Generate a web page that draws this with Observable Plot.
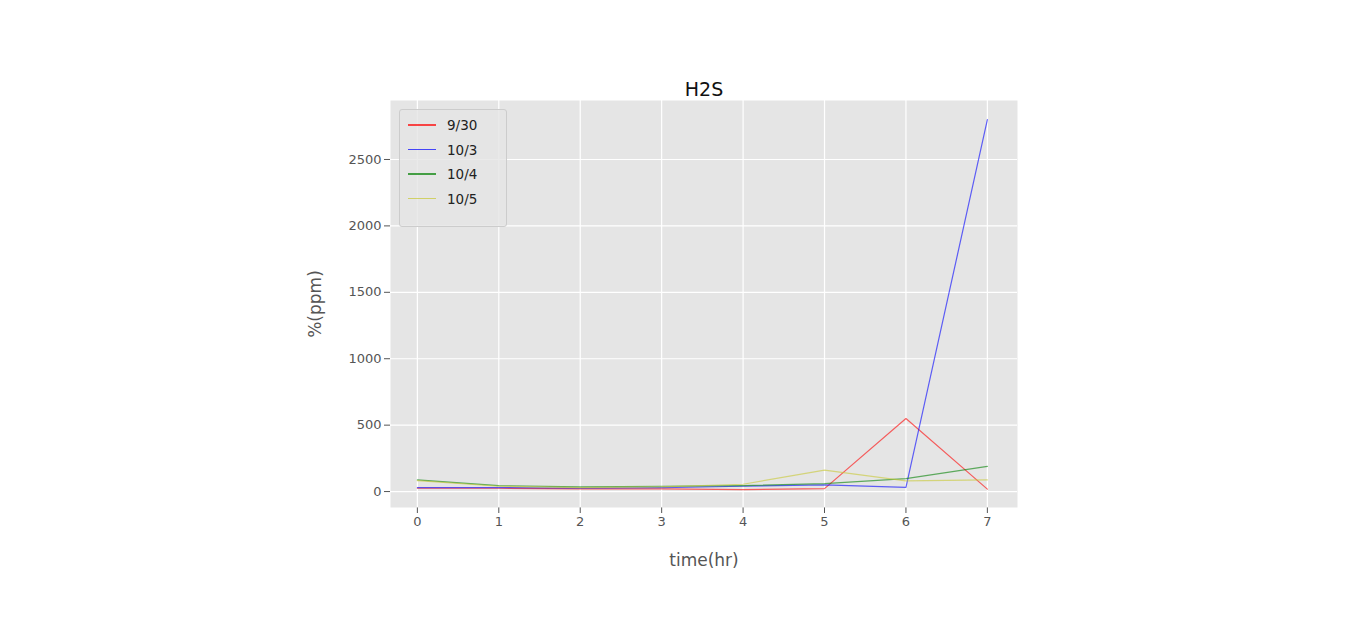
<!DOCTYPE html><html><head><meta charset="utf-8">
<script src="https://cdn.jsdelivr.net/npm/d3@7"></script>
<script src="https://cdn.jsdelivr.net/npm/@observablehq/plot@0.6"></script>
<style>body{margin:0;background:#fff;font-family:"DejaVu Sans",sans-serif}#wrap{position:relative;width:1350px;height:629px}
#leg{position:absolute;left:399px;top:109px;width:108px;height:118px;background:rgba(229,229,229,0.8);border:1px solid #ccc;border-radius:3px;box-sizing:border-box;font-size:13.5px;color:#222}
.row{position:absolute;left:8px;display:flex;align-items:center}.sw{display:inline-block;width:28px;height:1.2px;margin-right:11px;opacity:.7}</style></head><body><div id="wrap"></div>
<script>
const hours=[0,1,2,3,4,5,6,7];
const series=["9/30","10/3","10/4","10/5"];
const colors=["red","blue","green","#c8c832"];
const v930=[25,25,20,20,15,22,550,18];
const v103=[30,30,25,30,40,50,32,2800];
const v104=[88,45,35,40,45,60,98,190];
const v105=[82,40,30,35,55,162,80,88];
const vals=[v930,v103,v104,v105];
const data=series.flatMap((s,i)=>hours.map((h,j)=>({s,h,v:vals[i][j]})));
const chart=Plot.plot({width:1350,height:629,marginLeft:390,marginRight:333,marginTop:100,marginBottom:122,
style:{fontFamily:"DejaVu Sans",fontSize:"13px",color:"#555"},
x:{domain:[-0.33,7.37],ticks:hours,tickFormat:d3.format("d"),label:"time(hr)",labelArrow:false,labelAnchor:"center",labelOffset:58},
y:{domain:[-120,2944],ticks:[0,500,1000,1500,2000,2500],tickFormat:d3.format("d"),label:"%(ppm)",labelArrow:false,labelAnchor:"center",labelOffset:82},
color:{domain:series,range:colors},
marks:[Plot.frame({fill:"#e5e5e5"}),
Plot.gridX({ticks:hours,stroke:"white",strokeOpacity:1,strokeWidth:1.2}),
Plot.gridY({ticks:[0,500,1000,1500,2000,2500],stroke:"white",strokeOpacity:1,strokeWidth:1.2}),
Plot.line(data,{x:"h",y:"v",z:"s",stroke:"s",strokeWidth:1.2,strokeOpacity:0.6}),
Plot.text(["H2S"],{frameAnchor:"top",dy:-18,fontSize:19,fill:"#111"})]});
d3.select(chart).selectAll("[aria-label='x-axis label'] text,[aria-label='y-axis label'] text").style("font-size","17px");
document.getElementById("wrap").appendChild(chart);
const leg=document.createElement("div");leg.id="leg";
series.forEach((s,i)=>{const r=document.createElement("div");r.className="row";r.style.top=(7+i*24.5)+"px";
r.innerHTML=`<span class="sw" style="background:${colors[i]}"></span>${s}`;leg.appendChild(r);});
document.getElementById("wrap").appendChild(leg);
</script></body></html>
